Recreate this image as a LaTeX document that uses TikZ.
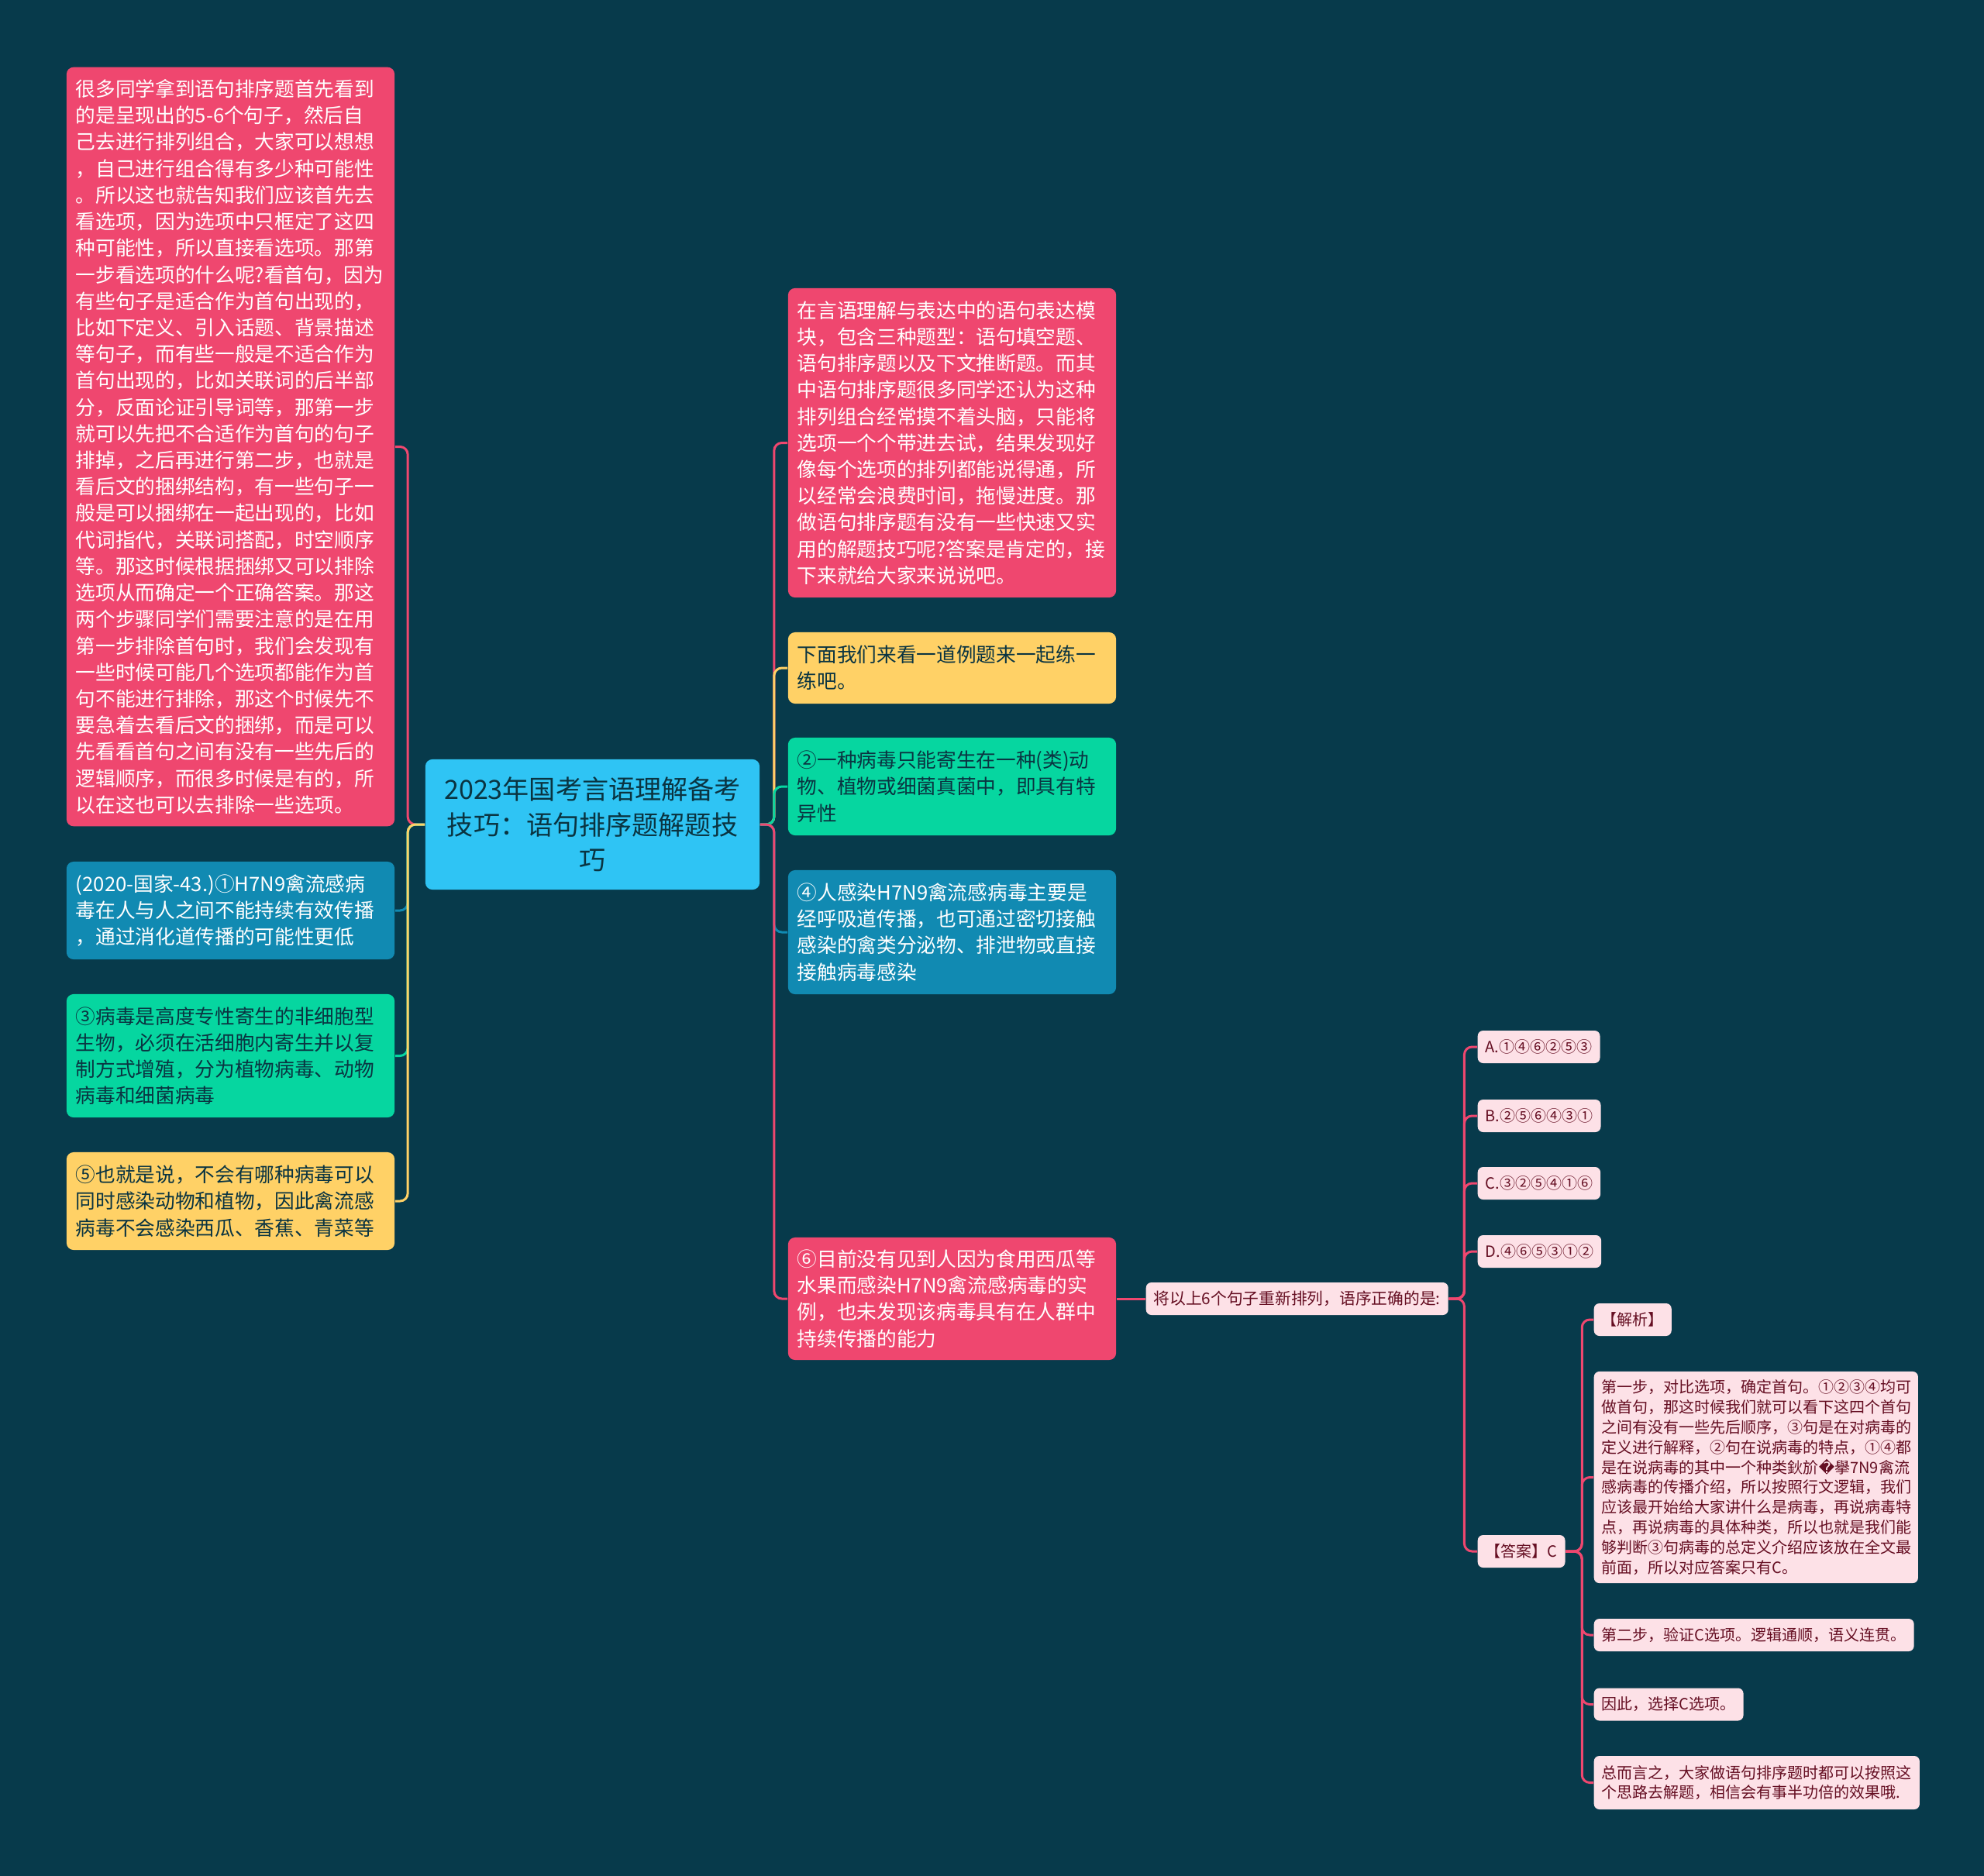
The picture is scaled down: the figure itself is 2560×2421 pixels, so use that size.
\documentclass[tikz,border=0pt]{standalone}
\usepackage{fontspec}
\setmainfont{Noto Sans CJK SC}
\newfontfamily\dejavu{DejaVu Sans}

\definecolor{bgc}{HTML}{073A4B}
\definecolor{cpink}{HTML}{EF476F}
\definecolor{cyellow}{HTML}{FFD166}
\definecolor{cgreen}{HTML}{06D6A0}
\definecolor{cblue}{HTML}{118AB2}
\definecolor{croot}{HTML}{2FC4F4}
\definecolor{clight}{HTML}{FDE1E7}
\definecolor{cdark}{HTML}{0A3441}
\definecolor{cwine}{HTML}{650E22}

\newcommand{\bigtxt}{\fontsize{7.3pt}{9.73pt}\selectfont}
\newcommand{\roottxt}{\fontsize{9.7pt}{13pt}\selectfont}
\newcommand{\smalltxt}{\fontsize{5.69pt}{7.34pt}\selectfont}

\begin{document}
\begin{tikzpicture}[
        x=0.01cm, y=-0.01cm,
        every node/.style={
            rounded corners=0.09cm,
            inner ysep=0pt,
            align=left
        },
        bigbox/.style={
            text width=3.99cm,
            inner xsep=0.12cm,
            font=\bigtxt
        },
        rootbox/.style={
            fill=croot,
            text=cdark,
            text width=4.07cm,
            inner xsep=0.12cm,
            minimum height=1.68cm,
            align=center,
            font=\roottxt
        },
        smallbox/.style={
            fill=clight,
            text=cwine,
            inner xsep=0.1cm,
            minimum height=0.42cm,
            anchor=west,
            rounded corners=0.07cm,
            font=\smalltxt
        },
        link/.style={line width=0.03cm, rounded corners=0.1cm}
    ]

        \fill[bgc] (0,0) rectangle (2560,2421);
        \useasboundingbox (0,0) rectangle (2560,2421);

        % left side
        \node[bigbox, fill=cpink, text=white, minimum height=9.79cm] (lp) at (297.5,576.5) {很多同学拿到语句排序题首先看到\\的是呈现出的5-6个句子，然后自\\己去进行排列组合，大家可以想想\\，自己进行组合得有多少种可能性\\。所以这也就告知我们应该首先去\\看选项，因为选项中只框定了这四\\种可能性，所以直接看选项。那第\\一步看选项的什么呢?看首句，因为\\有些句子是适合作为首句出现的，\\比如下定义、引入话题、背景描述\\等句子，而有些一般是不适合作为\\首句出现的，比如关联词的后半部\\分，反面论证引导词等，那第一步\\就可以先把不合适作为首句的句子\\排掉，之后再进行第二步，也就是\\看后文的捆绑结构，有一些句子一\\般是可以捆绑在一起出现的，比如\\代词指代，关联词搭配，时空顺序\\等。那这时候根据捆绑又可以排除\\选项从而确定一个正确答案。那这\\两个步骤同学们需要注意的是在用\\第一步排除首句时，我们会发现有\\一些时候可能几个选项都能作为首\\句不能进行排除，那这个时候先不\\要急着去看后文的捆绑，而是可以\\先看看首句之间有没有一些先后的\\逻辑顺序，而很多时候是有的，所\\以在这也可以去排除一些选项。};
        \node[bigbox, fill=cblue, text=white, minimum height=1.26cm] (lb) at (297.5,1175) {(2020-国家-43.)①H7N9禽流感病\\毒在人与人之间不能持续有效传播\\，通过消化道传播的可能性更低};
        \node[bigbox, fill=cgreen, text=cdark, minimum height=1.59cm] (lg) at (297.5,1362.5) {③病毒是高度专性寄生的非细胞型\\生物，必须在活细胞内寄生并以复\\制方式增殖，分为植物病毒、动物\\病毒和细菌病毒};
        \node[bigbox, fill=cyellow, text=cdark, minimum height=1.26cm] (ly) at (297.5,1550) {⑤也就是说，不会有哪种病毒可以\\同时感染动物和植物，因此禽流感\\病毒不会感染西瓜、香蕉、青菜等};

        % root
        \node[rootbox] (root) at (764.5,1064) {2023年国考言语理解备考\\技巧：语句排序题解题技\\巧};

        % right side
        \node[bigbox, fill=cpink, text=white, minimum height=3.99cm] (rp) at (1228.5,571.5) {在言语理解与表达中的语句表达模\\块，包含三种题型：语句填空题、\\语句排序题以及下文推断题。而其\\中语句排序题很多同学还认为这种\\排列组合经常摸不着头脑，只能将\\选项一个个带进去试，结果发现好\\像每个选项的排列都能说得通，所\\以经常会浪费时间，拖慢进度。那\\做语句排序题有没有一些快速又实\\用的解题技巧呢?答案是肯定的，接\\下来就给大家来说说吧。};
        \node[bigbox, fill=cyellow, text=cdark, minimum height=0.92cm] (ry) at (1228.5,862) {下面我们来看一道例题来一起练一\\练吧。};
        \node[bigbox, fill=cgreen, text=cdark, minimum height=1.26cm] (rg) at (1228.5,1015) {②一种病毒只能寄生在一种(类)动\\物、植物或细菌真菌中，即具有特\\异性};
        \node[bigbox, fill=cblue, text=white, minimum height=1.6cm] (rb) at (1228.5,1203) {④人感染H7N9禽流感病毒主要是\\经呼吸道传播，也可通过密切接触\\感染的禽类分泌物、排泄物或直接\\接触病毒感染};
        \node[bigbox, fill=cpink, text=white, minimum height=1.58cm] (rs) at (1228.5,1676) {⑥目前没有见到人因为食用西瓜等\\水果而感染H7N9禽流感病毒的实\\例，也未发现该病毒具有在人群中\\持续传播的能力};

        % question and options
        \node[smallbox, font=\fontsize{5.9pt}{7.34pt}\selectfont] (q) at (1478,1676) {将以上6个句子重新排列，语序正确的是:};
        \node[smallbox] (oa) at (1906,1351) {A.①④⑥②⑤③};
        \node[smallbox] (ob) at (1906,1440) {B.②⑤⑥④③①};
        \node[smallbox] (oc) at (1906,1527) {C.③②⑤④①⑥};
        \node[smallbox] (od) at (1906,1615) {D.④⑥⑤③①②};
        \node[smallbox] (ans) at (1906,2002) {【答案】C};

        % explanation
        \node[smallbox] (jx) at (2056,1703) {【解析】};
        \node[smallbox, text width=3.98cm, minimum height=2.73cm] (st1) at (2056,1906.5) {第一步，对比选项，确定首句。①②③④均可\\做首句，那这时候我们就可以看下这四个首句\\之间有没有一些先后顺序，③句是在对病毒的\\定义进行解释，②句在说病毒的特点，①④都\\是在说病毒的其中一个种类鈥斺{\dejavu �}擧7N9禽流\\感病毒的传播介绍，所以按照行文逻辑，我们\\应该最开始给大家讲什么是病毒，再说病毒特\\点，再说病毒的具体种类，所以也就是我们能\\够判断③句病毒的总定义介绍应该放在全文最\\前面，所以对应答案只有C。};
        \node[smallbox] (st2) at (2056,2110) {第二步，验证C选项。逻辑通顺，语义连贯。};
        \node[smallbox] (st3) at (2056,2199.5) {因此，选择C选项。};
        \node[smallbox, minimum height=0.69cm] (st4) at (2056,2300.5) {总而言之，大家做语句排序题时都可以按照这\\个思路去解题，相信会有事半功倍的效果哦.};

        % connectors
        \draw[link, cpink] (root.west) -- ([xshift=-0.22cm]root.west) |- (lp.east);
        \draw[link, cblue] (root.west) -- ([xshift=-0.22cm]root.west) |- (lb.east);
        \draw[link, cgreen] (root.west) -- ([xshift=-0.22cm]root.west) |- (lg.east);
        \draw[link, cyellow] (root.west) -- ([xshift=-0.22cm]root.west) |- (ly.east);

        \draw[link, cpink] (root.east) -- ([xshift=0.18cm]root.east) |- (rp.west);
        \draw[link, cyellow] (root.east) -- ([xshift=0.18cm]root.east) |- (ry.west);
        \draw[link, cgreen] (root.east) -- ([xshift=0.18cm]root.east) |- (rg.west);
        \draw[link, cblue] (root.east) -- ([xshift=0.18cm]root.east) |- (rb.west);
        \draw[link, cpink] (root.east) -- ([xshift=0.18cm]root.east) |- (rs.west);

        \draw[link, cpink] (rs.east) -- (q.west);
        \foreach \opt in {oa,ob,oc,od,ans}
            \draw[link, cpink] (q.east) -- ([xshift=0.2cm]q.east) |- (\opt.west);
        \foreach \part in {jx,st1,st2,st3,st4}
            \draw[link, cpink] (ans.east) -- ([xshift=0.21cm]ans.east) |- (\part.west);

    \end{tikzpicture}
\end{document}
